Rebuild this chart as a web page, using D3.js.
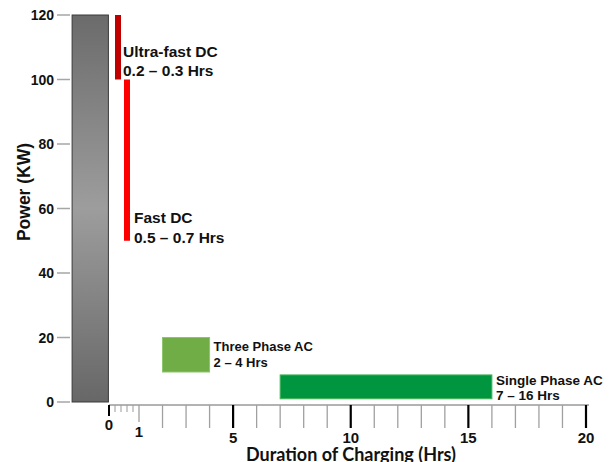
<!DOCTYPE html>
<html>
<head>
<meta charset="utf-8">
<script src="https://cdn.jsdelivr.net/npm/d3@7"></script>
<style>
  body { margin: 0; background: #fff; }
  text { font-family: "Liberation Sans", Arial, sans-serif; font-weight: bold; fill: #111; }
</style>
</head>
<body>
<div id="vis"></div>
<script>
// chargers: duration range (hrs) and power range (kW)
const chargers = ["Ultra-fast DC", "Fast DC", "Three Phase AC", "Single Phase AC"];
const hoursLow = [0.2, 0.5, 2, 7];
const hoursHigh = [0.3, 0.7, 4, 16];
const powerLow = [100, 50, 9.3, 1];
const powerHigh = [120, 100, 20, 8.4];
const rangeLabels = ["0.2 – 0.3 Hrs", "0.5 – 0.7 Hrs", "2 – 4 Hrs", "7 – 16 Hrs"];

const yTicks = [0, 20, 40, 60, 80, 100, 120];
const xLabels = [0, 1, 5, 10, 15, 20];
const minorTicks = [0.2, 0.4, 0.6, 0.8];

// gray power column drawn left of the zero hour
const powerColumn = {hours: [-1.23, -0.02], power: [0, 120]};

// styling per charger
const fillColors = ["#c00000", "#ff0000", "#70ad47", "#00963f"];
const strokeColors = ["none", "none", "#8cc56c", "#48b45a"];
const labelSize = [15.5, 15.5, 13, 13.5];
const labelGap = [2, 4, 4, 4];
const labelOff = [-4, 2, -5, 1];
const lineHeight = [19, 19.5, 16, 14.5];

const W = 613, H = 462;

const svg = d3.select('#vis')
    .append('svg')
    .attr('width', W)
    .attr('height', H);

const x = d3.scaleLinear().domain([0, 1, 20]).range([109, 139, 586]);
const y = d3.scaleLinear().domain([0, 120]).range([402, 15]);

// gradient for the power column
const grad = svg.append("defs").append("linearGradient")
    .attr("id", "colGrad")
    .attr("x1", 0).attr("y1", 0).attr("x2", 0).attr("y2", 1);
grad.append("stop").attr("offset", "0%").attr("stop-color", "#6b6b6b");
grad.append("stop").attr("offset", "50%").attr("stop-color", "#9d9d9d");
grad.append("stop").attr("offset", "100%").attr("stop-color", "#676767");

svg.append("rect")
    .attr("x", x(powerColumn.hours[0]))
    .attr("y", y(powerColumn.power[1]))
    .attr("width", x(powerColumn.hours[1]) - x(powerColumn.hours[0]))
    .attr("height", y(powerColumn.power[0]) - y(powerColumn.power[1]))
    .attr("fill", "url(#colGrad)")
    .attr("stroke", "#3a3a3a")
    .attr("stroke-width", 1);

// y ticks (no axis line)
const yAx = svg.append("g").attr("class", "y-axis");
yAx.selectAll("line")
    .data(yTicks)
    .join("line")
    .attr("x1", 57).attr("x2", 70)
    .attr("y1", d => y(d)).attr("y2", d => y(d))
    .attr("stroke", "#a6a6a6")
    .attr("stroke-width", 1.5);
yAx.selectAll("text")
    .data(yTicks)
    .join("text")
    .attr("x", 54)
    .attr("y", d => y(d))
    .attr("dy", "0.36em")
    .attr("text-anchor", "end")
    .style("font-size", "14px")
    .text(d => d);

svg.append("text")
    .attr("transform", "rotate(-90)")
    .attr("x", -192)
    .attr("y", 30)
    .attr("text-anchor", "middle")
    .style("font-size", "17.5px")
    .text("Power (KW)");

// x axis
const xAx = svg.append("g").attr("class", "x-axis");
const axisY = 405;
xAx.append("line")
    .attr("x1", x(0)).attr("x2", x(20) + 3)
    .attr("y1", axisY).attr("y2", axisY)
    .attr("stroke", "#9a9a9a")
    .attr("stroke-width", 1.5);

const intTicks = d3.range(1, 21);
xAx.selectAll(".minor")
    .data(minorTicks)
    .join("line")
    .attr("class", "minor")
    .attr("x1", d => x(d)).attr("x2", d => x(d))
    .attr("y1", axisY).attr("y2", axisY + 7)
    .attr("stroke", "#9a9a9a")
    .attr("stroke-width", 1);

xAx.selectAll(".int")
    .data(intTicks)
    .join("line")
    .attr("class", "int")
    .attr("x1", d => x(d)).attr("x2", d => x(d))
    .attr("y1", axisY)
    .attr("y2", d => d === 1 ? axisY + 17 : axisY + 23)
    .attr("stroke", d => d % 5 === 0 ? "#000" : "#a0a0a0")
    .attr("stroke-width", d => d % 5 === 0 ? 2.2 : 1.3);

xAx.append("line")
    .attr("x1", x(0)).attr("x2", x(0))
    .attr("y1", axisY).attr("y2", axisY + 11)
    .attr("stroke", "#000")
    .attr("stroke-width", 2);

xAx.selectAll("text")
    .data(xLabels)
    .join("text")
    .attr("x", d => x(d))
    .attr("y", d => d === 0 ? 430 : d === 1 ? 437 : 443)
    .attr("text-anchor", "middle")
    .style("font-size", "15px")
    .text(d => d);

svg.append("text")
    .attr("x", 351)
    .attr("y", 460.5)
    .attr("text-anchor", "middle")
    .style("font-family", "Lato, 'Open Sans', sans-serif")
    .style("font-size", "18px")
    .text("Duration of Charging (Hrs)");

// charger bars
const rows = chargers.map((name, i) => ({
    name, i,
    h0: hoursLow[i], h1: hoursHigh[i],
    p0: powerLow[i], p1: powerHigh[i],
    range: rangeLabels[i]
}));

const barW = d => Math.max(x(d.h1) - x(d.h0), 6);

svg.selectAll(".charger")
    .data(rows)
    .join("rect")
    .attr("class", "charger")
    .attr("x", d => x(d.h0))
    .attr("y", d => y(d.p1))
    .attr("width", barW)
    .attr("height", d => y(d.p0) - y(d.p1))
    .attr("fill", d => fillColors[d.i])
    .attr("stroke", d => strokeColors[d.i])
    .attr("stroke-width", 1);

const lbl = svg.selectAll(".charger-label")
    .data(rows)
    .join("text")
    .attr("class", "charger-label")
    .style("font-size", d => labelSize[d.i] + "px");

lbl.append("tspan")
    .attr("x", d => x(d.h0) + barW(d) + labelGap[d.i])
    .attr("y", d => y(d.p0) + labelOff[d.i] - lineHeight[d.i])
    .text(d => d.name);
lbl.append("tspan")
    .attr("x", d => x(d.h0) + barW(d) + labelGap[d.i])
    .attr("y", d => y(d.p0) + labelOff[d.i])
    .text(d => d.range);
</script>
</body>
</html>
